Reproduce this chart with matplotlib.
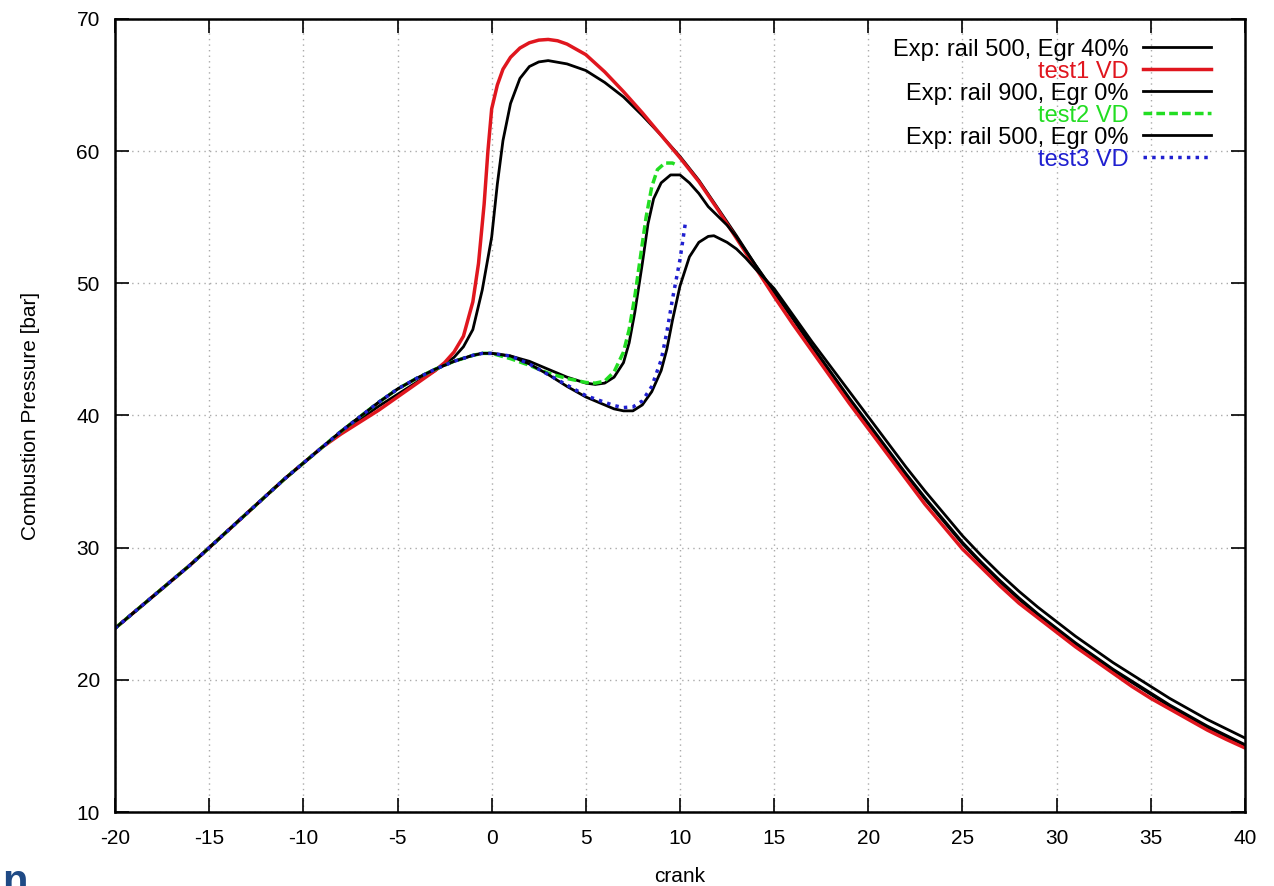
import numpy as np
import matplotlib
matplotlib.use('Agg')
from matplotlib import pyplot as plt

# shared compression part (crank, bar)
comp_x = [-20, -19, -18, -17, -16, -15, -14, -13, -12, -11, -10, -9, -8, -7, -6, -5, -4, -3, -2, -1, -0.5, 0]
comp_y = [23.9, 25.1, 26.3, 27.5, 28.7, 30.0, 31.3, 32.6, 33.9, 35.2, 36.4, 37.6, 38.8, 39.9, 41.0, 42.0, 42.8, 43.5, 44.1, 44.55, 44.7, 44.7]

# Exp: rail 500, Egr 40%
exp1_x = comp_x[:12] + [-8, -7, -6, -5, -4, -3, -2.5, -2, -1.5, -1, -0.5, 0, 0.3, 0.6, 1, 1.5, 2, 2.5, 3, 4, 5, 6, 7, 8, 9, 10, 11, 12, 13, 14, 15,
                        16, 17, 18, 19, 20, 21, 22, 23, 24, 25, 26, 27, 28, 29, 30, 31, 32, 33, 34, 35, 36, 37, 38, 39, 40]
exp1_y = comp_y[:12] + [38.7, 39.7, 40.7, 41.6, 42.5, 43.4, 43.9, 44.4, 45.2, 46.5, 49.5, 53.5, 57.5, 60.8, 63.6, 65.5, 66.4, 66.75, 66.85, 66.6, 66.1, 65.2, 64.1, 62.7, 61.2, 59.6, 57.8, 55.7, 53.6, 51.4, 49.3,
                        47.3, 45.2, 43.2, 41.2, 39.3, 37.4, 35.5, 33.7, 32.0, 30.3, 28.8, 27.4, 26.1, 24.9, 23.8, 22.7, 21.7, 20.7, 19.8, 18.9, 18.0, 17.2, 16.4, 15.7, 15.0]

# test1 VD
t1_x = comp_x[:12] + [-8, -7, -6, -5, -4, -3, -2.5, -2, -1.5, -1, -0.7, -0.4, -0.2, 0, 0.3, 0.6, 1, 1.5, 2, 2.5, 3, 3.5, 4, 5, 6, 7, 8, 9, 10, 11, 12, 13, 14, 15,
                      16, 17, 18, 19, 20, 21, 22, 23, 24, 25, 26, 27, 28, 29, 30, 31, 32, 33, 34, 35, 36, 37, 38, 39, 40]
t1_y = comp_y[:12] + [38.6, 39.5, 40.4, 41.4, 42.4, 43.4, 44.0, 44.8, 46.0, 48.6, 51.5, 56.0, 60.0, 63.2, 65.0, 66.2, 67.1, 67.8, 68.2, 68.4, 68.45, 68.35, 68.1, 67.3, 66.0, 64.5, 62.9, 61.2, 59.5, 57.7, 55.6, 53.4, 51.2, 49.0,
                      46.9, 44.9, 42.9, 40.9, 39.0, 37.1, 35.2, 33.3, 31.6, 29.9, 28.5, 27.1, 25.8, 24.7, 23.6, 22.5, 21.5, 20.5, 19.5, 18.6, 17.8, 17.0, 16.2, 15.5, 14.85]

# Exp: rail 900, Egr 0%
exp2_x = comp_x + [0.5, 1, 2, 3, 4, 5, 5.5, 6, 6.5, 7, 7.3, 7.6, 8, 8.3, 8.6, 9, 9.5, 10, 10.5, 11, 11.5, 12, 12.5, 13, 14, 15,
                   16, 17, 18, 19, 20, 21, 22, 23, 24, 25, 26, 27, 28, 29, 30, 31, 32, 33, 34, 35, 36, 37, 38, 39, 40]
exp2_y = comp_y + [44.6, 44.5, 44.1, 43.5, 42.9, 42.45, 42.35, 42.45, 42.9, 44.0, 45.5, 47.8, 51.5, 54.5, 56.4, 57.6, 58.2, 58.2, 57.6, 56.8, 55.8, 55.1, 54.4, 53.5, 51.4, 49.4,
                   47.4, 45.3, 43.3, 41.3, 39.4, 37.5, 35.6, 33.8, 32.1, 30.4, 28.9, 27.5, 26.2, 25.0, 23.9, 22.8, 21.8, 20.8, 19.9, 19.0, 18.1, 17.3, 16.5, 15.8, 15.1]

# test2 VD
t2_x = comp_x + [0.5, 1, 2, 3, 4, 5, 5.5, 6, 6.5, 7, 7.3, 7.6, 7.9, 8.2, 8.5, 8.8, 9.2, 9.6, 9.9]
t2_y = comp_y + [44.5, 44.3, 43.8, 43.2, 42.8, 42.5, 42.45, 42.6, 43.3, 44.8, 46.5, 49.0, 52.0, 55.0, 57.3, 58.6, 59.1, 59.1, 58.9]

# Exp: rail 500, Egr 0%
exp3_x = comp_x + [1, 2, 3, 4, 5, 6, 6.5, 7, 7.5, 8, 8.5, 9, 9.3, 9.6, 10, 10.5, 11, 11.5, 11.8, 12.5, 13, 13.5, 14, 14.6, 15,
                   16, 17, 18, 19, 20, 21, 22, 23, 24, 25, 26, 27, 28, 29, 30, 31, 32, 33, 34, 35, 36, 37, 38, 39, 40]
exp3_y = comp_y + [44.5, 43.9, 43.1, 42.2, 41.4, 40.8, 40.5, 40.35, 40.35, 40.8, 41.8, 43.4, 45.0, 47.2, 49.8, 52.0, 53.1, 53.55, 53.6, 53.1, 52.6, 51.9, 51.1, 50.2, 49.6,
                   47.6, 45.6, 43.7, 41.8, 39.9, 38.0, 36.1, 34.3, 32.6, 30.9, 29.4, 28.0, 26.7, 25.5, 24.4, 23.3, 22.3, 21.3, 20.4, 19.5, 18.6, 17.8, 17.0, 16.3, 15.6]

# test3 VD
t3_x = comp_x + [1, 2, 3, 4, 5, 6, 6.5, 7, 7.5, 8, 8.5, 9, 9.3, 9.6, 10, 10.3]
t3_y = comp_y + [44.5, 43.9, 43.1, 42.3, 41.5, 41.0, 40.75, 40.6, 40.65, 41.1, 42.2, 44.2, 46.3, 48.8, 51.8, 54.7]

plt.rcParams['font.family'] = ['Liberation Sans', 'DejaVu Sans']
plt.rcParams['axes.unicode_minus'] = False

fig = plt.figure(figsize=(12.74, 8.86), dpi=100)
ax = fig.add_axes([0.0903, 0.0835, 0.8869, 0.8951])

ax.plot(exp1_x, exp1_y, color='black', lw=2, label='Exp: rail 500, Egr 40%')
ax.plot(t1_x, t1_y, color='#e0161e', lw=2.5, label='test1 VD')
ax.plot(exp2_x, exp2_y, color='black', lw=2, label='Exp: rail 900, Egr 0%')
ax.plot(t2_x, t2_y, color='#22dd22', lw=2.5, ls=(0, (2.5, 1.2)), label='test2 VD')
ax.plot(exp3_x, exp3_y, color='black', lw=2, label='Exp: rail 500, Egr 0%')
ax.plot(t3_x, t3_y, color='#2020d0', lw=2.5, ls=(0, (1, 1.5)), label='test3 VD')

ax.set_xlim(-20, 40)
ax.set_ylim(10, 70)
ax.set_xticks(np.arange(-20, 41, 5))
ax.set_yticks(np.arange(10, 71, 10))
ax.grid(True, color='#aaaaaa', ls=(0, (1, 3)), lw=1)
ax.tick_params(direction='in', length=10, width=1.2, top=True, right=True, labelsize=15)
ax.tick_params(axis='x', pad=12)
ax.tick_params(axis='y', pad=11)
for s in ax.spines.values():
    s.set_linewidth(1.8)

ax.set_xlabel('crank', fontsize=15, labelpad=14)
ax.set_ylabel('Combustion Pressure [bar]', fontsize=15, labelpad=26)

leg = ax.legend(loc='upper right', bbox_to_anchor=(0.9973, 1.014), frameon=False, markerfirst=False, fontsize=17,
                handlelength=2.9, handletextpad=0.6, labelspacing=0.0, borderaxespad=0.9, alignment='right')
for t, c in zip(leg.get_texts(), ['black', '#e0161e', 'black', '#22dd22', 'black', '#2020d0']):
    t.set_color(c)
    t.set_ha('right')

fig.text(0.002, -0.019, 'n', fontsize=30, fontweight='bold', color='#1f4a85', va='bottom')

fig.savefig('out.png', dpi=100)
